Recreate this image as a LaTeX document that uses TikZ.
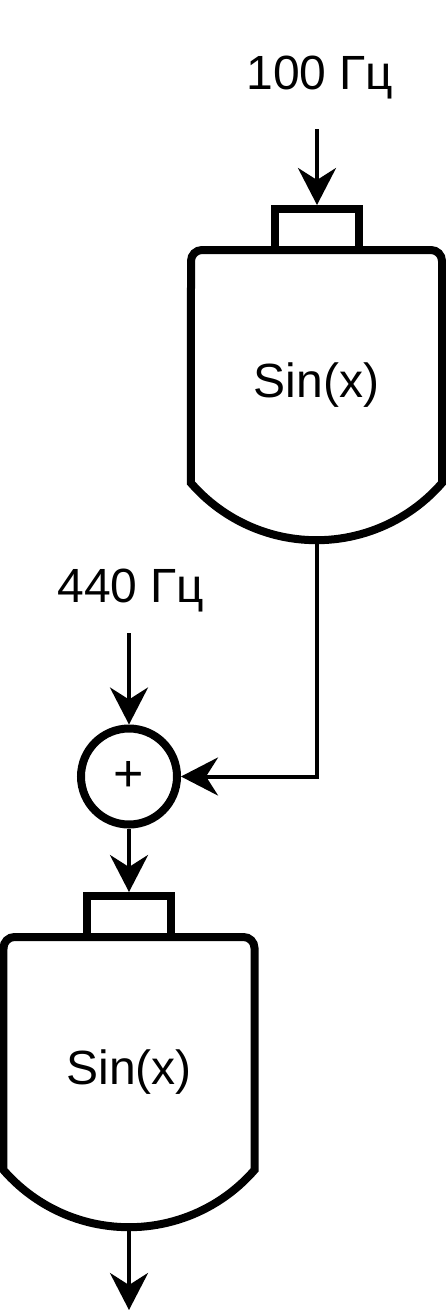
\documentclass[tikz,border=0pt]{standalone}
\usepackage{fontspec}
\setmainfont{Liberation Sans}
\usetikzlibrary{arrows.meta,positioning}

\begin{document}
\begin{tikzpicture}[x=1pt,y=1pt,
    osc/.style={rectangle,minimum width=251pt,minimum height=290pt,inner sep=0pt,outer sep=0pt,text height=35pt,text depth=31pt,font=\fontsize{48}{58}\selectfont},
    port/.style={rectangle,draw,line width=8pt,minimum width=83.5pt,minimum height=41pt,inner sep=0pt},
    sumnode/.style={circle,draw,line width=8pt,minimum size=96pt,inner sep=0pt,font=\fontsize{52}{60}\selectfont},
    freq/.style={font=\fontsize{48}{58}\selectfont,anchor=base,inner sep=0pt},
    arr/.style={-{Stealth[length=37pt,width=38pt,inset=12pt]},line width=4pt},
    shell/.style={line width=8pt,line join=miter},
]
\useasboundingbox (0,0) rectangle (446,-1312);

% Inputs
\node[freq] (f100) at (320,-89) {100 Гц};
\node[freq] (f440) at (131,-602) {440 Гц};
\coordinate (in100) at (317,-129);
\coordinate (in440) at (129,-633);
\coordinate (out) at (129,-1310);

% Oscillators
\node[port] (port1) at (317,-229.5) {};
\node[osc] (osc1) at (316.5,-395) {Sin(x)};
\node[port] (port2) at (129,-916.5) {};
\node[osc] (osc2) at (129,-1082) {Sin(x)};
\foreach \o in {osc1,osc2}
  \draw[shell] ([yshift=57pt]\o.south east) arc[start angle=-41,end angle=-139,radius=166.3]
    -- ([yshift=-11pt]\o.north west) arc[start angle=180,end angle=90,radius=11pt]
    -- ([xshift=-11pt]\o.north east) arc[start angle=90,end angle=0,radius=11pt] -- cycle;

% Adder
\node[sumnode] (sum) at (129,-776.5) {+};

% Arrows
\draw[arr] (in100) -- (port1);
\draw[arr] (in440) -- (sum);
\draw[arr] (osc1.south) |- (sum);
\draw[arr] (sum) -- (port2);
\draw[arr] (osc2.south) -- (out);
\end{tikzpicture}
\end{document}
